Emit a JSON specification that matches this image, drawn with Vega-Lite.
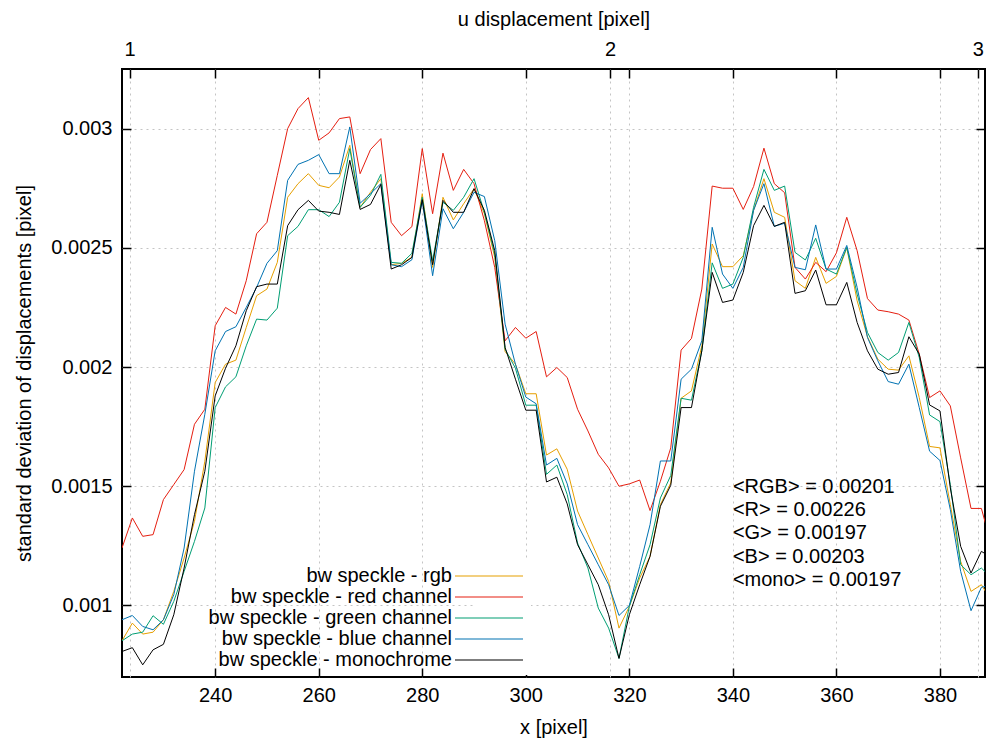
{
  "$schema": "https://vega.github.io/schema/vega-lite/v6.json",
  "width": 863,
  "height": 608,
  "autosize": "none",
  "padding": {"left": 122, "top": 69, "right": 2, "bottom": 63},
  "background": "white",
  "config": {
    "font": "Liberation Sans",
    "view": {"stroke": "black", "strokeWidth": 2},
    "axis": {
      "labelFont": "Liberation Sans", "labelFontSize": 20, "labelColor": "black",
      "titleFont": "Liberation Sans", "titleFontSize": 20, "titleFontWeight": "normal", "titleColor": "black",
      "domain": false, "tickColor": "black", "tickSize": -9, "tickWidth": 1.5,
      "gridColor": "#c4c4c4", "gridDash": [2, 4], "gridWidth": 1
    }
  },
  "datasets": {
    "curves": [
      {"x":222,"rgb":0.000852,"red":0.001241,"green":0.000852,"blue":0.000940,"mono":0.000807},
      {"x":224,"rgb":0.000926,"red":0.001367,"green":0.000880,"blue":0.000958,"mono":0.000823},
      {"x":226,"rgb":0.000880,"red":0.001290,"green":0.000888,"blue":0.000912,"mono":0.000751},
      {"x":228,"rgb":0.000888,"red":0.001297,"green":0.000957,"blue":0.000898,"mono":0.000814},
      {"x":230,"rgb":0.000940,"red":0.001444,"green":0.000921,"blue":0.000940,"mono":0.000837},
      {"x":232,"rgb":0.001059,"red":0.001507,"green":0.001017,"blue":0.001045,"mono":0.000961},
      {"x":234,"rgb":0.001199,"red":0.001570,"green":0.001143,"blue":0.001241,"mono":0.001157},
      {"x":236,"rgb":0.001353,"red":0.001760,"green":0.001269,"blue":0.001563,"mono":0.001381},
      {"x":238,"rgb":0.001605,"red":0.001823,"green":0.001409,"blue":0.001802,"mono":0.001563},
      {"x":240,"rgb":0.001935,"red":0.002173,"green":0.001830,"blue":0.002068,"mono":0.001879},
      {"x":242,"rgb":0.002012,"red":0.002250,"green":0.001917,"blue":0.002149,"mono":0.001995},
      {"x":244,"rgb":0.002029,"red":0.002222,"green":0.001959,"blue":0.002169,"mono":0.002089},
      {"x":246,"rgb":0.002166,"red":0.002362,"green":0.002089,"blue":0.002250,"mono":0.002236},
      {"x":248,"rgb":0.002299,"red":0.002559,"green":0.002201,"blue":0.002334,"mono":0.002337},
      {"x":250,"rgb":0.002327,"red":0.002607,"green":0.002197,"blue":0.002435,"mono":0.002348},
      {"x":252,"rgb":0.002439,"red":0.002804,"green":0.002247,"blue":0.002488,"mono":0.002348},
      {"x":254,"rgb":0.002712,"red":0.003000,"green":0.002551,"blue":0.002783,"mono":0.002593},
      {"x":256,"rgb":0.002769,"red":0.003084,"green":0.002590,"blue":0.002850,"mono":0.002660},
      {"x":258,"rgb":0.002811,"red":0.003130,"green":0.002660,"blue":0.002867,"mono":0.002699},
      {"x":260,"rgb":0.002762,"red":0.002951,"green":0.002660,"blue":0.002891,"mono":0.002654},
      {"x":262,"rgb":0.002752,"red":0.002982,"green":0.002631,"blue":0.002811,"mono":0.002649},
      {"x":264,"rgb":0.002797,"red":0.003042,"green":0.002691,"blue":0.002811,"mono":0.002640},
      {"x":266,"rgb":0.002930,"red":0.003049,"green":0.002916,"blue":0.003007,"mono":0.002867},
      {"x":268,"rgb":0.002670,"red":0.002811,"green":0.002670,"blue":0.002687,"mono":0.002661},
      {"x":270,"rgb":0.002733,"red":0.002912,"green":0.002720,"blue":0.002727,"mono":0.002682},
      {"x":272,"rgb":0.002790,"red":0.002958,"green":0.002808,"blue":0.002769,"mono":0.002766},
      {"x":274,"rgb":0.002429,"red":0.002607,"green":0.002439,"blue":0.002429,"mono":0.002411},
      {"x":276,"rgb":0.002435,"red":0.002551,"green":0.002435,"blue":0.002421,"mono":0.002429},
      {"x":278,"rgb":0.002460,"red":0.002589,"green":0.002477,"blue":0.002450,"mono":0.002460},
      {"x":280,"rgb":0.002727,"red":0.002916,"green":0.002712,"blue":0.002699,"mono":0.002702},
      {"x":282,"rgb":0.002418,"red":0.002643,"green":0.002446,"blue":0.002383,"mono":0.002429},
      {"x":284,"rgb":0.002712,"red":0.002897,"green":0.002691,"blue":0.002664,"mono":0.002699},
      {"x":286,"rgb":0.002617,"red":0.002741,"green":0.002657,"blue":0.002580,"mono":0.002649},
      {"x":288,"rgb":0.002685,"red":0.002829,"green":0.002712,"blue":0.002649,"mono":0.002649},
      {"x":290,"rgb":0.002748,"red":0.002769,"green":0.002790,"blue":0.002733,"mono":0.002748},
      {"x":292,"rgb":0.002643,"red":0.002614,"green":0.002649,"blue":0.002715,"mono":0.002657},
      {"x":294,"rgb":0.002460,"red":0.002418,"green":0.002474,"blue":0.002530,"mono":0.002488},
      {"x":296,"rgb":0.002065,"red":0.002110,"green":0.002075,"blue":0.002180,"mono":0.002082},
      {"x":298,"rgb":0.002012,"red":0.002166,"green":0.001995,"blue":0.002012,"mono":0.001949},
      {"x":300,"rgb":0.001888,"red":0.002121,"green":0.001840,"blue":0.001874,"mono":0.001819},
      {"x":302,"rgb":0.001888,"red":0.002149,"green":0.001840,"blue":0.001846,"mono":0.001819},
      {"x":304,"rgb":0.001631,"red":0.001959,"green":0.001550,"blue":0.001589,"mono":0.001518},
      {"x":306,"rgb":0.001657,"red":0.001998,"green":0.001589,"blue":0.001617,"mono":0.001538},
      {"x":308,"rgb":0.001571,"red":0.001956,"green":0.001465,"blue":0.001510,"mono":0.001426},
      {"x":310,"rgb":0.001396,"red":0.001823,"green":0.001262,"blue":0.001339,"mono":0.001255},
      {"x":312,"rgb":0.001297,"red":0.001732,"green":0.001157,"blue":0.001255,"mono":0.001171},
      {"x":314,"rgb":0.001199,"red":0.001634,"green":0.000989,"blue":0.001171,"mono":0.001087},
      {"x":316,"rgb":0.001101,"red":0.001577,"green":0.000905,"blue":0.001087,"mono":0.000961},
      {"x":318,"rgb":0.000905,"red":0.001500,"green":0.000778,"blue":0.000958,"mono":0.000778},
      {"x":320,"rgb":0.000996,"red":0.001510,"green":0.000996,"blue":0.001000,"mono":0.000961},
      {"x":322,"rgb":0.001115,"red":0.001526,"green":0.001129,"blue":0.001164,"mono":0.001087},
      {"x":324,"rgb":0.001206,"red":0.001398,"green":0.001255,"blue":0.001339,"mono":0.001206},
      {"x":326,"rgb":0.001423,"red":0.001521,"green":0.001451,"blue":0.001606,"mono":0.001416},
      {"x":328,"rgb":0.001514,"red":0.001661,"green":0.001545,"blue":0.001606,"mono":0.001504},
      {"x":330,"rgb":0.001869,"red":0.002071,"green":0.001869,"blue":0.001949,"mono":0.001830},
      {"x":332,"rgb":0.001900,"red":0.002120,"green":0.001861,"blue":0.001991,"mono":0.001830},
      {"x":334,"rgb":0.002089,"red":0.002327,"green":0.002068,"blue":0.002110,"mono":0.002068},
      {"x":336,"rgb":0.002516,"red":0.002759,"green":0.002437,"blue":0.002586,"mono":0.002397},
      {"x":338,"rgb":0.002421,"red":0.002750,"green":0.002330,"blue":0.002390,"mono":0.002271},
      {"x":340,"rgb":0.002421,"red":0.002750,"green":0.002348,"blue":0.002330,"mono":0.002281},
      {"x":342,"rgb":0.002467,"red":0.002661,"green":0.002460,"blue":0.002418,"mono":0.002397},
      {"x":344,"rgb":0.002657,"red":0.002757,"green":0.002670,"blue":0.002657,"mono":0.002593},
      {"x":346,"rgb":0.002790,"red":0.002918,"green":0.002829,"blue":0.002769,"mono":0.002678},
      {"x":348,"rgb":0.002649,"red":0.002769,"green":0.002741,"blue":0.002590,"mono":0.002590},
      {"x":350,"rgb":0.002628,"red":0.002731,"green":0.002759,"blue":0.002603,"mono":0.002607},
      {"x":352,"rgb":0.002362,"red":0.002418,"green":0.002481,"blue":0.002418,"mono":0.002309},
      {"x":354,"rgb":0.002330,"red":0.002369,"green":0.002449,"blue":0.002408,"mono":0.002320},
      {"x":356,"rgb":0.002460,"red":0.002439,"green":0.002540,"blue":0.002596,"mono":0.002407},
      {"x":358,"rgb":0.002351,"red":0.002400,"green":0.002411,"blue":0.002411,"mono":0.002261},
      {"x":360,"rgb":0.002380,"red":0.002479,"green":0.002390,"blue":0.002411,"mono":0.002261},
      {"x":362,"rgb":0.002500,"red":0.002628,"green":0.002502,"blue":0.002510,"mono":0.002355},
      {"x":364,"rgb":0.002278,"red":0.002488,"green":0.002306,"blue":0.002334,"mono":0.002187},
      {"x":366,"rgb":0.002127,"red":0.002287,"green":0.002145,"blue":0.002124,"mono":0.002068},
      {"x":368,"rgb":0.002033,"red":0.002239,"green":0.002061,"blue":0.002026,"mono":0.001991},
      {"x":370,"rgb":0.001991,"red":0.002232,"green":0.002029,"blue":0.001939,"mono":0.001970},
      {"x":372,"rgb":0.001987,"red":0.002222,"green":0.002061,"blue":0.001928,"mono":0.001977},
      {"x":374,"rgb":0.002047,"red":0.002197,"green":0.002187,"blue":0.002012,"mono":0.002127},
      {"x":376,"rgb":0.001872,"red":0.002054,"green":0.002040,"blue":0.001830,"mono":0.002054},
      {"x":378,"rgb":0.001667,"red":0.001872,"green":0.001799,"blue":0.001647,"mono":0.001841},
      {"x":380,"rgb":0.001661,"red":0.001900,"green":0.001771,"blue":0.001608,"mono":0.001816},
      {"x":382,"rgb":0.001423,"red":0.001837,"green":0.001507,"blue":0.001402,"mono":0.001493},
      {"x":384,"rgb":0.001185,"red":0.001619,"green":0.001171,"blue":0.001143,"mono":0.001248},
      {"x":386,"rgb":0.001059,"red":0.001407,"green":0.001129,"blue":0.000978,"mono":0.001136},
      {"x":388,"rgb":0.001087,"red":0.001407,"green":0.001157,"blue":0.001076,"mono":0.001227},
      {"x":390,"rgb":0.001017,"red":0.001248,"green":0.001114,"blue":0.001088,"mono":0.001200}
    ],
    "stats": [
      {"line": "<RGB> = 0.00201"}
    ]
  },
  "layer": [
    {
      "data": {"name": "curves"},
      "transform": [{"fold": ["rgb", "red", "green", "blue", "mono"], "as": ["series", "value"]}],
      "mark": {"type": "line", "strokeWidth": 1, "clip": true},
      "encoding": {
        "x": {
          "field": "x", "type": "quantitative",
          "scale": {"domain": [222, 388.7], "nice": false, "zero": false},
          "axis": {"orient": "bottom", "values": [240, 260, 280, 300, 320, 340, 360, 380], "format": "d", "grid": false, "title": "x [pixel]", "labelPadding": 17, "titlePadding": 12}
        },
        "y": {
          "field": "value", "type": "quantitative",
          "scale": {"domain": [0.0007, 0.00325], "nice": false, "zero": false},
          "axis": {"orient": "left", "values": [0.001, 0.0015, 0.002, 0.0025, 0.003], "format": "~g", "grid": true, "title": "standard deviation of displacements [pixel]", "labelPadding": 19, "titlePadding": 16}
        },
        "color": {
          "field": "series", "type": "nominal",
          "scale": {"domain": ["rgb", "red", "green", "blue", "mono"], "range": ["#e69f00", "#e51e10", "#009e73", "#0072b2", "#000000"]},
          "legend": {
            "orient": "none", "legendX": 351, "legendY": 491, "title": null,
            "symbolType": "M-3.4,0H3.4", "symbolSize": 400, "symbolStrokeWidth": 1.2, "symbolFillColor": "transparent",
            "labelAlign": "right", "labelOffset": -48, "labelFontSize": 20, "labelFont": "Liberation Sans", "labelColor": "black", "labelLimit": 400,
            "rowPadding": 0, "padding": 5, "fillColor": "white",
            "labelExpr": "datum.label == 'rgb' ? 'bw speckle - rgb' : datum.label == 'red' ? 'bw speckle - red channel' : datum.label == 'green' ? 'bw speckle - green channel' : datum.label == 'blue' ? 'bw speckle - blue channel' : 'bw speckle - monochrome'"
          }
        }
      }
    },
    {
      "data": {"name": "curves"},
      "mark": {"type": "point", "opacity": 0},
      "encoding": {
        "x": {
          "field": "x", "type": "quantitative",
          "scale": {"domain": [222, 388.7], "nice": false, "zero": false},
          "axis": {"orient": "top", "values": [223.48, 240, 260, 280, 300, 316.27, 320, 340, 360, 380, 387.3], "grid": true, "title": "u displacement [pixel]", "labelPadding": 19, "titlePadding": 10,
            "labelExpr": "datum.value == 223.48 ? '1' : datum.value == 316.27 ? '2' : datum.value == 387.3 ? '3' : ''"}
        },
        "y": {
          "field": "rgb", "type": "quantitative",
          "scale": {"domain": [0.0007, 0.00325], "nice": false, "zero": false},
          "axis": {"orient": "right", "values": [0.001, 0.0015, 0.002, 0.0025, 0.003], "labels": false, "grid": false, "title": null}
        }
      }
    },
    {
      "data": {"name": "stats"},
      "mark": {"type": "text", "align": "left", "baseline": "top", "fontSize": 20, "font": "Liberation Sans", "lineHeight": 23.3, "color": "black",
        "text": ["<RGB> = 0.00201", "<R> = 0.00226", "<G> = 0.00197", "<B> = 0.00203", "<mono> = 0.00197"]},
      "encoding": {
        "x": {"datum": 340, "type": "quantitative", "axis": null},
        "y": {"datum": 0.00154, "type": "quantitative", "axis": null}
      }
    }
  ],
  "resolve": {"axis": {"x": "independent", "y": "independent"}}
}
